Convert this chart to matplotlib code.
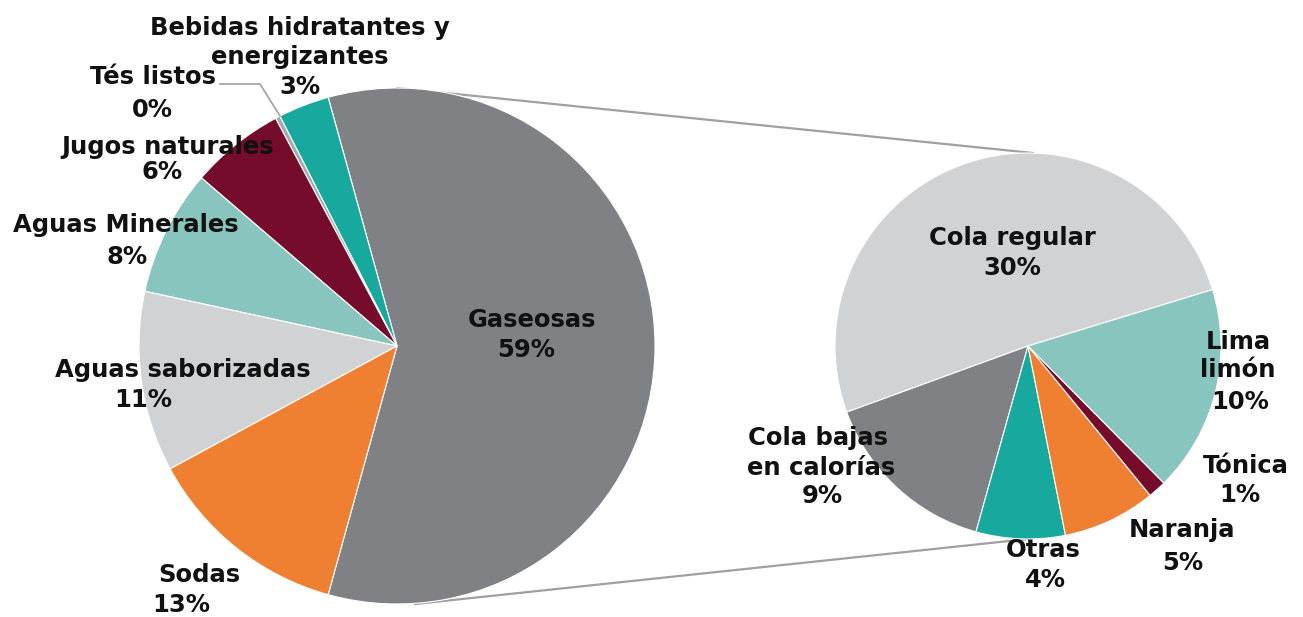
import matplotlib.pyplot as plt

# main pie
main_labels = ['Gaseosas', 'Bebidas hidratantes y\nenergizantes', 'Tés listos', 'Jugos naturales',
               'Aguas Minerales', 'Aguas saborizadas', 'Sodas']
main_values = [58.6, 3.2, 0.3, 5.9, 7.9, 11.3, 12.8]
main_colors = ['#808184', '#17A99D', '#A7A9AC', '#760C2C', '#88C5BF', '#D1D2D4', '#EF7F31']

# breakdown of Gaseosas
sub_labels = ['Cola regular', 'Cola bajas\nen calorías', 'Otras', 'Naranja', 'Tónica', 'Lima\nlimón']
sub_values = [30.0, 8.9, 4.4, 4.6, 0.9, 10.2]
sub_colors = ['#D1D2D4', '#808184', '#17A99D', '#EF7F31', '#760C2C', '#88C5BF']

H = 617
fig = plt.figure(figsize=(13.03, 6.17), dpi=100)
ax = fig.add_axes([0, 0, 1, 1])

c1, r1 = (397, H - 346), 258
c2, r2 = (1028, H - 346), 193

# connector lines (behind pies)
ax.plot([c1[0], c2[0] + 5], [c1[1] + r1, c2[1] + r2], color='#A0A0A0', lw=1.6, zorder=0)
ax.plot([c1[0] + 18, c2[0]], [c1[1] - r1, c2[1] - r2], color='#A0A0A0', lw=1.6, zorder=0)

wedge_kw = dict(edgecolor='white', linewidth=0.8)
ax.pie(main_values, colors=main_colors, center=c1, radius=r1, counterclock=True,
       startangle=-main_values[0] / sum(main_values) * 180, wedgeprops=wedge_kw, frame=True)
ax.pie(sub_values, colors=sub_colors, center=c2, radius=r2, counterclock=True,
       startangle=17, wedgeprops=wedge_kw, frame=True)

font = dict(fontsize=17.5, fontweight='bold', color='#111111', family='DejaVu Sans',
            ha='center', va='center', zorder=5)

# (x, y) of each text line, last one is the percentage
main_pos = [[(532, 320), (526, 350)],
            [(300, 28), (300, 57), (300, 87)],
            [(153, 77), (152, 110)],
            [(168, 147), (162, 172)],
            [(126, 225), (127, 257)],
            [(183, 370), (143, 400)],
            [(199, 575), (181, 605)]]
sub_pos = [[(1012, 238), (1012, 268)],
           [(818, 438), (821, 468), (822, 496)],
           [(1043, 550), (1045, 580)],
           [(1182, 530), (1183, 563)],
           [(1246, 466), (1240, 495)],
           [(1238, 342), (1238, 370), (1240, 402)]]

for labels, values, positions in [(main_labels, main_values, main_pos),
                                  (sub_labels, sub_values, sub_pos)]:
    for lab, v, pos in zip(labels, values, positions):
        lines = lab.split('\n') + [f'{round(v)}%']
        for line, (x, y) in zip(lines, pos):
            ax.text(x, H - y, line, **font)

# leader line for Tés listos
ax.plot([220, 260, 280], [H - 84, H - 84, H - 116], color='#A0A0A0', lw=1.2, zorder=4)

ax.set_xlim(0, 1303)
ax.set_ylim(0, H)
ax.set_aspect('equal')
ax.axis('off')
fig.savefig('out.png', dpi=100)
